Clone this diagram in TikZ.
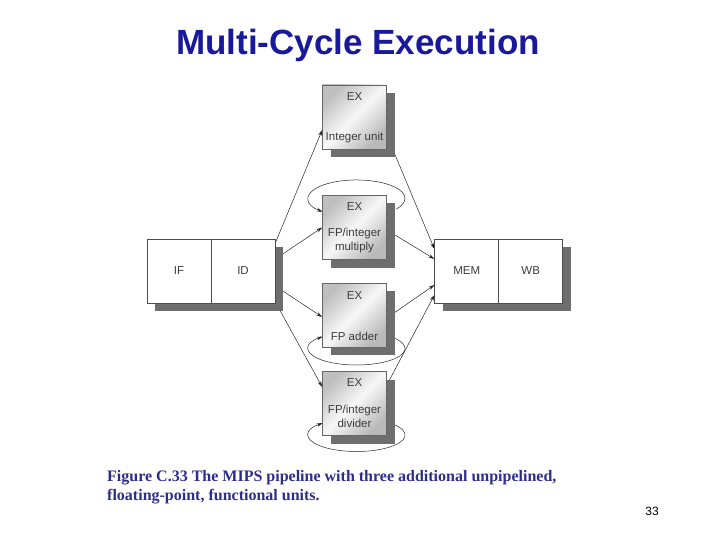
\documentclass[tikz,border=0pt]{standalone}
\usepackage{fontspec}
\setmainfont{Liberation Sans}
\newfontfamily\capfont{Liberation Serif}
\usetikzlibrary{arrows.meta,shadows,backgrounds}
\definecolor{titleblue}{RGB}{25,25,155}
\definecolor{capblue}{RGB}{45,45,140}
\definecolor{lblgray}{RGB}{60,60,60}
\definecolor{shadowgray}{RGB}{110,110,110}
\tikzset{
  boxshadow/.style={general shadow={fill=shadowgray, shadow xshift=8pt, shadow yshift=-8pt}},
  exbox/.style={draw=black!60, line width=0.6pt, minimum width=64pt, minimum height=64pt,
    inner sep=0pt, top color=gray!50, bottom color=gray!55, middle color=gray!6,
    shading angle=45, boxshadow},
  plainbox/.style={draw=black!70, line width=0.6pt, fill=white, minimum width=128pt,
    minimum height=64pt, inner sep=0pt, boxshadow},
  lbl/.style={font=\fontsize{11.5}{14}\selectfont, text=lblgray, align=center, inner sep=0pt},
  conn/.style={-{Stealth[length=6pt,width=3.6pt]}, line width=0.5pt, black!85},
  captext/.style={font=\capfont\bfseries\fontsize{16}{19}\selectfont, text=capblue, inner sep=0pt}
}
\begin{document}
\begin{tikzpicture}[x=1pt,y=-1pt]
\useasboundingbox (0,0) rectangle (720,540);

% title
\node[font=\bfseries\fontsize{35}{40}\selectfont, text=titleblue, anchor=base, inner sep=0pt]
  (title) at (358,55) {Multi-Cycle Execution};

% boxes
\node[plainbox] (ifid) at (211,271) {};
\node[plainbox] (memwb) at (498.7,271) {};
\draw[black!70, line width=0.6pt] (ifid.north) -- (ifid.south);
\draw[black!70, line width=0.6pt] (memwb.north) -- (memwb.south);

\node[exbox] (int) at (354.5,117) {};
\node[exbox] (mult) at (354.5,227.5) {};
\node[exbox] (add) at (354.5,315) {};
\node[exbox] (div) at (354.5,403.5) {};

% labels
\node[lbl] (lif) at ([xshift=-32pt]ifid.center) {IF};
\node[lbl] (lid) at ([xshift=32pt]ifid.center) {ID};
\node[lbl] (lmem) at ([xshift=-32pt]memwb.center) {MEM};
\node[lbl] (lwb) at ([xshift=32pt]memwb.center) {WB};

\node[lbl] (intex) at ([yshift=-12pt]int.north) {EX};
\node[lbl] (intname) at ([yshift=12pt]int.south) {Integer unit};
\node[lbl] (multex) at ([yshift=-11.5pt]mult.north) {EX};
\node[lbl] (multname) at ([yshift=19pt]mult.south) {FP/integer\\multiply};
\node[lbl] (addex) at ([yshift=-13pt]add.north) {EX};
\node[lbl] (addname) at ([yshift=11pt]add.south) {FP adder};
\node[lbl] (divex) at ([yshift=-11.5pt]div.north) {EX};
\node[lbl] (divname) at ([yshift=19pt]div.south) {FP/integer\\divider};

% connectors
\begin{scope}[on background layer]
\draw[conn] ([yshift=28pt]ifid.east) -- ([yshift=-13pt]int.west);
\draw[conn] ([yshift=12pt]ifid.east) -- (mult.west);
\draw[conn] ([yshift=-15pt]ifid.east) -- ([yshift=-2pt]add.west);
\draw[conn] ([yshift=-31pt]ifid.east) -- ([yshift=16.5pt]div.west);

\draw[conn] ([yshift=-18pt]int.east) -- ([yshift=22pt]memwb.west);
\draw[conn] ([yshift=-2.5pt]mult.east) -- ([yshift=12pt]memwb.west);
\draw[conn] ([yshift=-3pt]add.east) -- ([yshift=-14pt]memwb.west);
\draw[conn] ([yshift=18.5pt]div.east) -- ([yshift=-24pt]memwb.west);

% loops
\draw[conn] ([xshift=41.5pt,yshift=18.3pt]mult.center)
  arc[start angle=-35.5, end angle=225.8, x radius=48.5pt, y radius=18.5pt];
\draw[conn] ([xshift=39.2pt,yshift=-22.9pt]add.center)
  arc[start angle=40, end angle=-225.8, x radius=48.5pt, y radius=16.5pt];
\draw[conn] ([xshift=39.2pt,yshift=-20.9pt]div.center)
  arc[start angle=40, end angle=-225.8, x radius=48.5pt, y radius=16.5pt];
\end{scope}

% caption
\node[captext, anchor=base west] (cap1) at (107,481)
  {Figure C.33 The MIPS pipeline with three additional unpipelined,};
\node[captext, anchor=base west] (cap2) at (107,500)
  {floating-point, functional units.};
\node[font=\fontsize{12}{14}\selectfont, inner sep=0pt] (pnum) at (652,511) {33};
\end{tikzpicture}
\end{document}
